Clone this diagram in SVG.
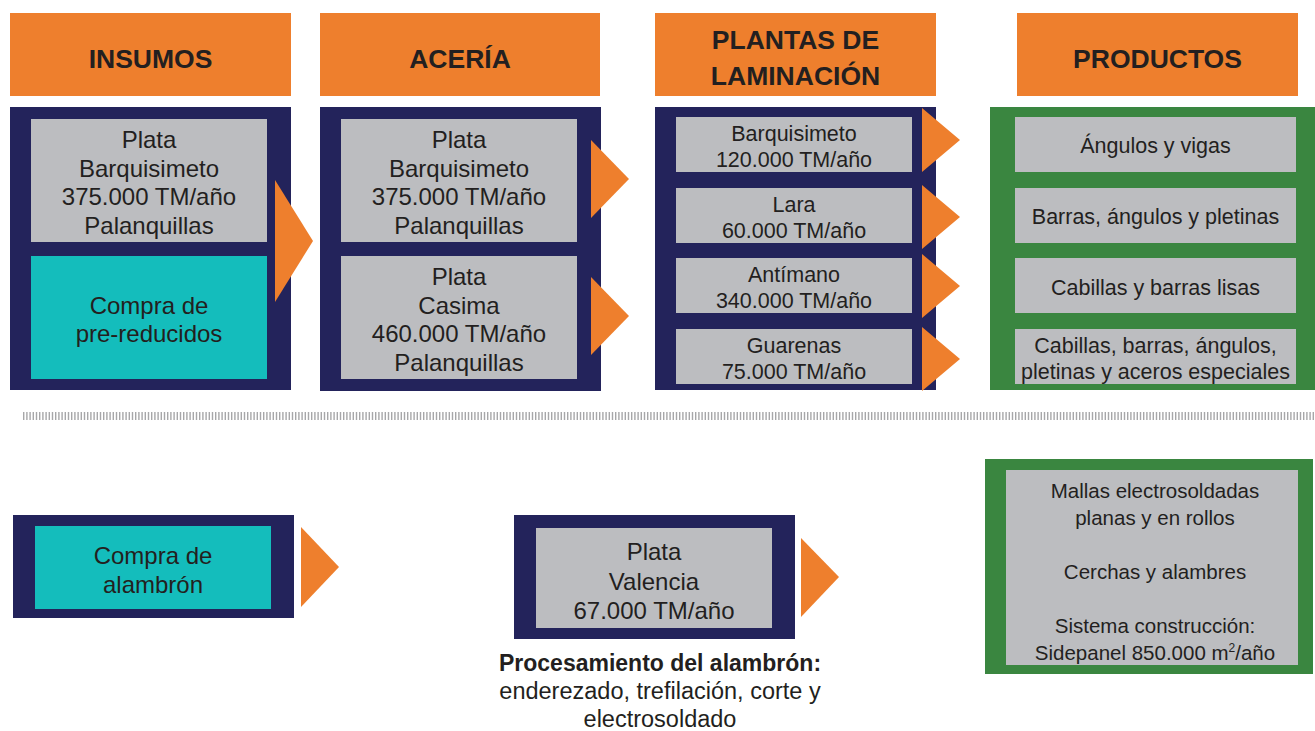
<svg xmlns="http://www.w3.org/2000/svg" width="1315" height="731" viewBox="0 0 1315 731">
<style>
.hdr{fill:#EE7F2D}
.navy{fill:#23235B}
.green{fill:#3A8640}
.gray{fill:#BCBDC0}
.teal{fill:#14BDBC}
.arr{fill:#EE7F2D}
text{font-family:"Liberation Sans",Arial,sans-serif;fill:#231F20;text-anchor:middle}
.h{font-size:26.5px;font-weight:bold}
.t{font-size:24px}
.s{font-size:21.5px}
.m{font-size:20.5px}
.p{font-size:23.5px}
.b{font-weight:bold;font-size:23px}
</style>
<rect width="1315" height="731" fill="#fff"/>
<g id="header-insumos"><rect class="hdr" x="10" y="13" width="281" height="83"/><text class="h" x="150.5" y="68">INSUMOS</text></g>
<g id="header-aceria"><rect class="hdr" x="320" y="13" width="280" height="83"/><text class="h" x="460" y="68">ACERÍA</text></g>
<g id="header-plantas"><rect class="hdr" x="655" y="13" width="281" height="83"/><text class="h" x="795.5" y="49">PLANTAS DE</text><text class="h" x="795.5" y="85">LAMINACIÓN</text></g>
<g id="header-productos"><rect class="hdr" x="1017" y="13" width="281" height="83"/><text class="h" x="1157.5" y="68">PRODUCTOS</text></g>

<g id="insumos">
<rect class="navy" x="10" y="107" width="281" height="283"/>
<rect class="gray" x="31" y="119" width="236" height="123"/>
<text class="t" x="149" y="148">Plata</text>
<text class="t" x="149" y="176.5">Barquisimeto</text>
<text class="t" x="149" y="205">375.000 TM/año</text>
<text class="t" x="149" y="233.5">Palanquillas</text>
<rect class="teal" x="31" y="256" width="236" height="123"/>
<text class="t" x="149" y="314">Compra de</text>
<text class="t" x="149" y="342">pre-reducidos</text>
</g>

<g id="aceria">
<rect class="navy" x="320" y="107" width="281" height="284"/>
<rect class="gray" x="341" y="119" width="236" height="123"/>
<text class="t" x="459" y="148">Plata</text>
<text class="t" x="459" y="176.5">Barquisimeto</text>
<text class="t" x="459" y="205">375.000 TM/año</text>
<text class="t" x="459" y="233.5">Palanquillas</text>
<rect class="gray" x="341" y="256" width="236" height="123"/>
<text class="t" x="459" y="285">Plata</text>
<text class="t" x="459" y="313.5">Casima</text>
<text class="t" x="459" y="342">460.000 TM/año</text>
<text class="t" x="459" y="370.5">Palanquillas</text>
</g>

<g id="plantas">
<rect class="navy" x="655" y="107" width="281" height="283"/>
<rect class="gray" x="676" y="117" width="236" height="55"/>
<text class="s" x="794" y="141">Barquisimeto</text>
<text class="s" x="794" y="167">120.000 TM/año</text>
<rect class="gray" x="676" y="188" width="236" height="55"/>
<text class="s" x="794" y="211.5">Lara</text>
<text class="s" x="794" y="238">60.000 TM/año</text>
<rect class="gray" x="676" y="258" width="236" height="55"/>
<text class="s" x="794" y="282">Antímano</text>
<text class="s" x="794" y="308">340.000 TM/año</text>
<rect class="gray" x="676" y="329" width="236" height="55"/>
<text class="s" x="794" y="352.5">Guarenas</text>
<text class="s" x="794" y="378.5">75.000 TM/año</text>
</g>

<g id="productos">
<rect class="green" x="990" y="107" width="325" height="283"/>
<rect class="gray" x="1015" y="117" width="281" height="55"/>
<text class="s" x="1155.5" y="153">Ángulos y vigas</text>
<rect class="gray" x="1015" y="188" width="281" height="55"/>
<text class="s" x="1155.5" y="223.5">Barras, ángulos y pletinas</text>
<rect class="gray" x="1015" y="258" width="281" height="55"/>
<text class="s" x="1155.5" y="294.5">Cabillas y barras lisas</text>
<rect class="gray" x="1015" y="329" width="281" height="55"/>
<text class="s" x="1155.5" y="352.5">Cabillas, barras, ángulos,</text>
<text class="s" x="1155.5" y="378.5">pletinas y aceros especiales</text>
</g>

<g id="separator">
<line x1="23" y1="416" x2="1315" y2="416" stroke="#a7a7a9" stroke-width="8" stroke-dasharray="1.4 1.8"/>
</g>

<g id="compra-alambron">
<rect class="navy" x="13" y="515" width="281" height="103"/>
<rect class="teal" x="35" y="526" width="236" height="83"/>
<text class="t" x="153" y="563.5">Compra de</text>
<text class="t" x="153" y="593">alambrón</text>
</g>

<g id="valencia">
<rect class="navy" x="514" y="515" width="281" height="124"/>
<rect class="gray" x="536" y="528" width="236" height="100"/>
<text class="t" x="654" y="560">Plata</text>
<text class="t" x="654" y="590">Valencia</text>
<text class="t" x="654" y="619">67.000 TM/año</text>
</g>

<g id="procesamiento">
<text class="b" x="660" y="670.5">Procesamiento del alambrón:</text>
<text class="p" x="660" y="699">enderezado, trefilación, corte y</text>
<text class="p" x="660" y="727">electrosoldado</text>
</g>

<g id="productos-alambre">
<rect class="green" x="985" y="459" width="328" height="215"/>
<rect class="gray" x="1006" y="470" width="292" height="195"/>
<text class="m" x="1155" y="498">Mallas electrosoldadas</text>
<text class="m" x="1155" y="525">planas y en rollos</text>
<text class="m" x="1155" y="579">Cerchas y alambres</text>
<text class="m" x="1155" y="633">Sistema construcción:</text>
<text class="m" x="1155" y="660">Sidepanel 850.000 m<tspan font-size="12" dy="-8">2</tspan><tspan dy="8">/año</tspan></text>
</g>

<g id="connectors">
<polygon class="arr" points="275,180 313,241 275,302"/>
<polygon class="arr" points="591,140 629,179 591,218"/>
<polygon class="arr" points="591,277 629,316 591,355"/>
<polygon class="arr" points="922,108 960,140 922,172"/>
<polygon class="arr" points="922,185 960,217 922,249"/>
<polygon class="arr" points="922,254 960,286 922,318"/>
<polygon class="arr" points="922,327 960,359 922,391"/>
<polygon class="arr" points="301,527 339,567 301,607"/>
<polygon class="arr" points="801,538 839,577 801,617"/>
</g>
</svg>
